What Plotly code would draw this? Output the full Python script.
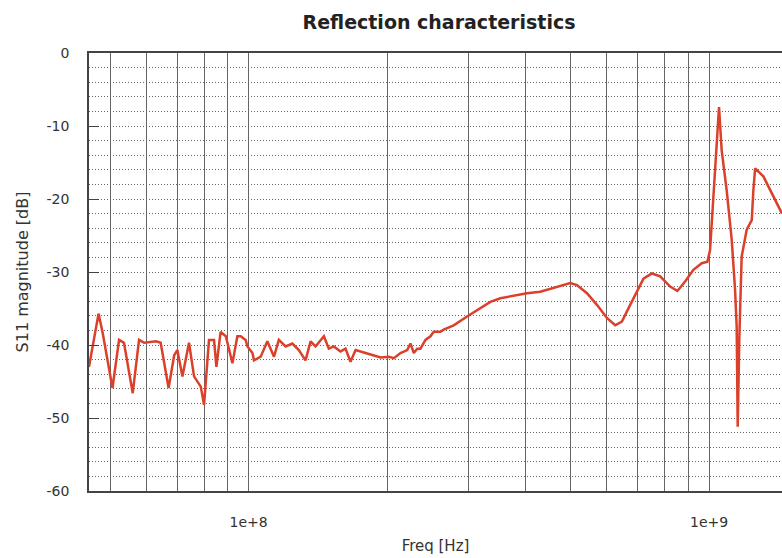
import plotly.graph_objects as go

freq_mhz = [45.0, 47.2, 48.2, 50.6, 52.3, 53.6, 56.0, 57.8, 59.3, 62.9, 64.4, 67.0, 68.9, 70.0,
            71.8, 74.2, 76.1, 78.7, 80.0, 82.0, 84.1, 85.1, 86.9, 89.2, 92.2, 94.5, 96.1, 98.5,
            99.4, 101.9, 102.7, 106.2, 109.8, 113.5, 116.3, 120.3, 124.4, 128.5, 132.9, 136.3,
            139.7, 145.7, 149.3, 153.1, 158.3, 162.3, 166.4, 170.7, 179.4, 187.0, 193.4, 201.6,
            206.7, 213.7, 221.0, 224.6, 228.4, 232.3, 236.1, 242.1, 248.2, 252.3, 260.9, 265.2,
            278.8, 298.1, 318.6, 334.9, 352.1, 376.3, 402.3, 429.9, 459.5, 483.0, 499.4, 516.4,
            542.9, 570.7, 600.0, 625.4, 646.6, 674.0, 702.6, 720.4, 751.2, 783.0, 823.1, 853.6,
            887.1, 924.6, 964.3, 991.6, 1005, 1022, 1039, 1051, 1065, 1092, 1120, 1139, 1148,
            1154, 1163, 1177, 1207, 1238, 1248, 1259, 1312, 1379, 1440]
s11_db = [-43.0, -35.7, -38.4, -45.9, -39.3, -39.7, -46.6, -39.3, -39.7, -39.5, -39.7, -45.9,
          -41.4, -40.7, -44.3, -39.7, -44.3, -45.7, -48.2, -39.3, -39.3, -43.0, -38.2, -38.8,
          -42.5, -38.8, -38.8, -39.3, -40.2, -41.1, -42.1, -41.6, -39.5, -41.6, -39.3, -40.2,
          -39.8, -40.7, -42.1, -39.5, -40.2, -38.8, -40.5, -40.2, -40.9, -40.5, -42.3, -40.7,
          -41.1, -41.4, -41.7, -41.6, -41.8, -41.1, -40.7, -39.8, -41.1, -40.5, -40.5, -39.3,
          -38.8, -38.2, -38.2, -37.9, -37.3, -36.1, -35.0, -34.1, -33.6, -33.2, -32.9, -32.7,
          -32.2, -31.8, -31.5, -31.8, -32.9, -34.5, -36.3, -37.3, -36.8, -34.5, -32.2, -30.9,
          -30.2, -30.6, -32.0, -32.6, -31.3, -29.7, -28.8, -28.6, -27.0, -20.1, -12.8, -7.4,
          -13.3, -18.8, -25.6, -32.5, -37.5, -51.2, -39.3, -27.9, -24.2, -22.9, -18.8, -15.8,
          -16.9, -19.7, -22.0]

freq_hz = [f * 1e6 for f in freq_mhz]

grid_vals = [5e7, 6e7, 7e7, 8e7, 9e7, 1e8, 2e8, 3e8, 4e8, 5e8, 6e8, 7e8, 8e8, 9e8, 1e9]
grid_text = ["", "", "", "", "", "1e+8", "", "", "", "", "", "", "", "", "1e+9"]
y_ticks = [0, -10, -20, -30, -40, -50, -60]
y_text = ["0", "-10", "-20", "-30", "-40", "-50", "-60"]

FONT = "DejaVu Sans, Verdana, sans-serif"

fig = go.Figure()
fig.add_trace(go.Scatter(x=freq_hz, y=s11_db, mode="lines",
                         line=dict(color="#db402b", width=2.5), showlegend=False))

fig.update_layout(
    width=782, height=558,
    margin=dict(l=89, r=0, t=53, b=67, autoexpand=False),
    paper_bgcolor="white", plot_bgcolor="white",
    font=dict(family=FONT, size=14, color="#333"),
    title=dict(text="<b>Reflection characteristics</b>", x=439 / 782, xref="container",
               y=1 - 22 / 558, yref="container", xanchor="center", yanchor="middle",
               font=dict(family=FONT, size=19, color="#222")),
)
fig.update_xaxes(
    type="log", range=[7.6532, 9.1584], automargin=False,
    tickvals=grid_vals, ticktext=grid_text,
    showgrid=True, gridcolor="#666", gridwidth=1,
    showline=True, linecolor="#444", linewidth=1.5, mirror=True,
    ticks="", ticklabelstandoff=17, zeroline=False,
    tickfont=dict(family=FONT, size=14, color="#333"),
    title=dict(text="Freq [Hz]", standoff=12, font=dict(family=FONT, size=15, color="#333")),
)
fig.update_yaxes(
    range=[-60, 0], tickvals=y_ticks, ticktext=y_text, automargin=False,
    showgrid=True, gridcolor="#666", griddash="1px,2px", gridwidth=1,
    minor=dict(dtick=2, showgrid=True, gridcolor="#666", griddash="1px,2px", gridwidth=1),
    showline=True, linecolor="#444", linewidth=1.5, mirror=False,
    ticks="inside", ticklen=10, tickcolor="#444", ticklabelstandoff=15, zeroline=False,
    tickfont=dict(family=FONT, size=14, color="#333"),
    title=dict(text="S11 magnitude [dB]", standoff=14, font=dict(family=FONT, size=16, color="#333")),
)

# remove the default 8px page margin so the figure sits exactly in the window
fig.write_html(
    "out.html",
    config={"displayModeBar": False},
    post_script="document.body.style.margin='0';document.body.style.overflow='hidden';",
)
